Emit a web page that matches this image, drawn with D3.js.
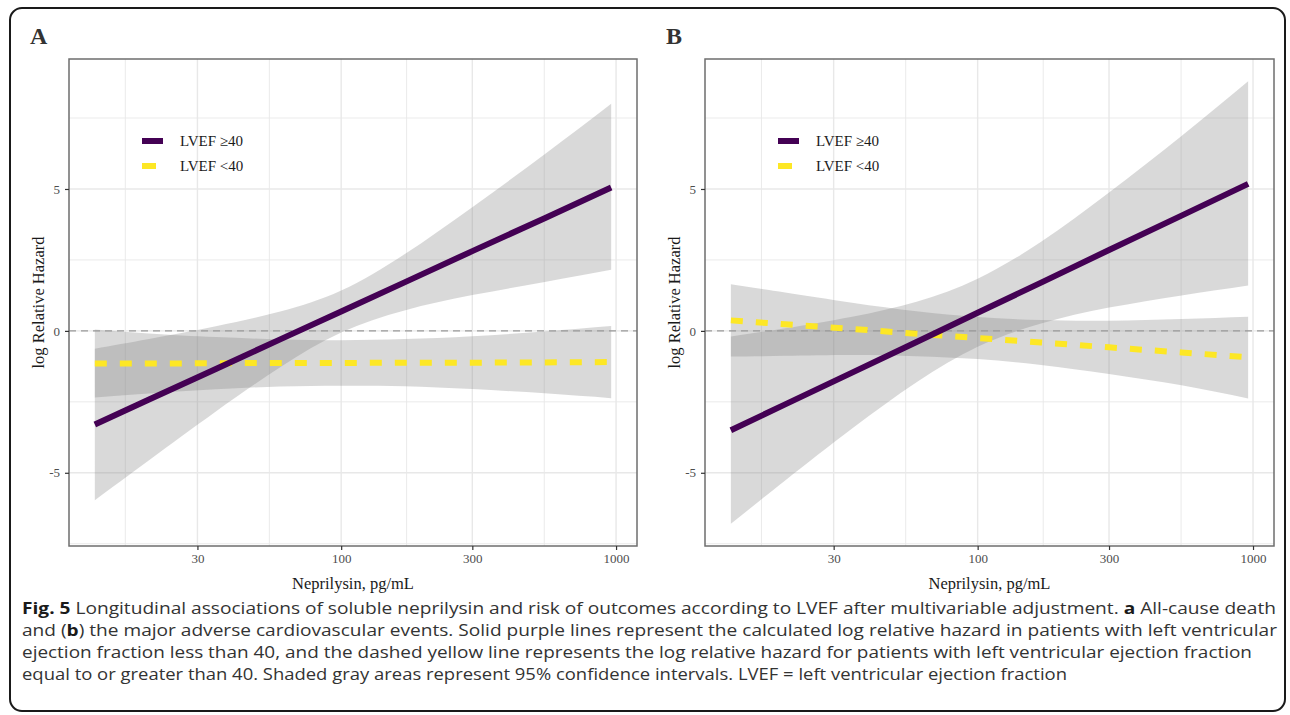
<!DOCTYPE html>
<html>
<head>
<meta charset="utf-8">
<script src="https://cdn.jsdelivr.net/npm/d3@7"></script>
<style>
  body { margin: 0; background: #fff; }
  svg { display: block; }
</style>
</head>
<body>
<svg id="fig" width="1290" height="715"></svg>
<script>
// --- data ---

// neprilysin (pg/mL) where the curves were read
const neprilysin = [12.7, 20, 35, 60, 100, 170, 300, 550, 960];

// panel A: all-cause death
const aHigh   = [-3.30, -2.42, -1.34, -0.30, 0.68, 1.71, 2.81, 3.97, 5.05];
const aHighLo = [-5.97, -4.56, -2.84, -1.28, -0.06, 0.72, 1.26, 1.72, 2.15];
const aHighHi = [-0.63, -0.29, 0.16, 0.68, 1.42, 2.70, 4.36, 6.22, 8.00];
const aLow    = [-1.15, -1.15, -1.14, -1.13, -1.13, -1.12, -1.12, -1.11, -1.10];
const aLowLo  = [-2.35, -2.21, -2.06, -1.96, -1.93, -1.95, -2.05, -2.20, -2.37];
const aLowHi  = [0.05, -0.09, -0.22, -0.30, -0.33, -0.29, -0.19, -0.02, 0.17];

// panel B: major adverse cardiovascular events
const bHigh   = [-3.50, -2.59, -1.47, -0.39, 0.64, 1.70, 2.85, 4.06, 5.18];
const bHighLo = [-6.80, -5.27, -3.44, -1.81, -0.56, 0.26, 0.82, 1.25, 1.60];
const bHighHi = [-0.20, 0.09, 0.50, 1.03, 1.84, 3.14, 4.88, 6.87, 8.80];
const bLow    = [0.37, 0.23, 0.07, -0.10, -0.25, -0.41, -0.58, -0.76, -0.93];
const bLowLo  = [-0.90, -0.88, -0.85, -0.89, -0.99, -1.20, -1.52, -1.92, -2.38];
const bLowHi  = [1.64, 1.35, 0.99, 0.69, 0.49, 0.38, 0.36, 0.42, 0.50];

const groups = ["LVEF \u226540", "LVEF <40"];
const panelLabels = ["A", "B"];
const xTicks = [30, 100, 300, 1000];
const xMinor = [16.4, 54.8, 173, 548];
const yTicks = [-5, 0, 5];
const yMinor = [-7.5, -2.5, 2.5, 7.5];

const captionLines = [
  [["Fig. 5", true], [" Longitudinal associations of soluble neprilysin and risk of outcomes according to LVEF after multivariable adjustment. ", false], ["a", true], [" All-cause death", false]],
  [["and (", false], ["b", true], [") the major adverse cardiovascular events. Solid purple lines represent the calculated log relative hazard in patients with left ventricular", false]],
  [["ejection fraction less than 40, and the dashed yellow line represents the log relative hazard for patients with left ventricular ejection fraction", false]],
  [["equal to or greater than 40. Shaded gray areas represent 95% confidence intervals. LVEF = left ventricular ejection fraction", false]]
];

// --- layout ---
const serif = "'Liberation Serif', 'Times New Roman', serif";
const purple = "#440154", yellow = "#FDE725";
const panelTop = 59, panelBottom = 546;

const panels = [
  { left: 69, width: 568, high: aHigh, highLo: aHighLo, highHi: aHighHi, low: aLow, lowLo: aLowLo, lowHi: aLowHi },
  { left: 705, width: 569, high: bHigh, highLo: bHighLo, highHi: bHighHi, low: bLow, lowLo: bLowLo, lowHi: bLowHi }
];

const fig = d3.select("#fig");

// outer rounded frame
fig.append("rect")
  .attr("x", 10).attr("y", 8)
  .attr("width", 1275).attr("height", 703)
  .attr("rx", 12)
  .attr("fill", "none")
  .attr("stroke", "#1a1a1a")
  .attr("stroke-width", 2);

// shared y scale (ggplot style 5% expansion)
const allY = [].concat(aHighLo, aHighHi, aLowLo, aLowHi, bHighLo, bHighHi, bLowLo, bLowHi);
const [yMin, yMax] = d3.extent(allY);
const yPad = (yMax - yMin) * 0.05;

const [xMinData, xMaxData] = d3.extent(neprilysin);
const lx0 = Math.log10(xMinData), lx1 = Math.log10(xMaxData);
const lxPad = (lx1 - lx0) * 0.05;

function drawPanel(p, k) {
  const x = d3.scaleLog()
    .domain([Math.pow(10, lx0 - lxPad), Math.pow(10, lx1 + lxPad)])
    .range([p.left, p.left + p.width]);
  const y = d3.scaleLinear()
    .domain([yMin - yPad, yMax + yPad])
    .range([panelBottom, panelTop]);

  const g = fig.append("g");
  const right = p.left + p.width;

  // grid
  const grid = g.append("g").attr("stroke", "#e8e8e8").attr("fill", "none");
  grid.selectAll(".xmin").data(xMinor).join("line")
    .attr("x1", d => x(d)).attr("x2", d => x(d))
    .attr("y1", panelTop).attr("y2", panelBottom).attr("stroke-width", 0.9);
  grid.selectAll(".ymin").data(yMinor).join("line")
    .attr("x1", p.left).attr("x2", right)
    .attr("y1", d => y(d)).attr("y2", d => y(d)).attr("stroke-width", 0.9);
  grid.selectAll(".xmaj").data(xTicks).join("line")
    .attr("x1", d => x(d)).attr("x2", d => x(d))
    .attr("y1", panelTop).attr("y2", panelBottom).attr("stroke-width", 1.4);
  grid.selectAll(".ymaj").data(yTicks).join("line")
    .attr("x1", p.left).attr("x2", right)
    .attr("y1", d => y(d)).attr("y2", d => y(d)).attr("stroke-width", 1.4);

  // confidence bands
  const band = (lo, hi) => d3.area()
    .x((d, i) => x(neprilysin[i]))
    .y0((d, i) => y(lo[i]))
    .y1((d, i) => y(hi[i]))
    .curve(d3.curveNatural);

  [[p.highLo, p.highHi], [p.lowLo, p.lowHi]].forEach(([lo, hi]) => {
    g.append("path")
      .datum(neprilysin)
      .attr("d", band(lo, hi))
      .attr("fill", "#808080")
      .attr("fill-opacity", 0.3);
  });

  // reference line at 0
  g.append("line")
    .attr("x1", p.left).attr("x2", right)
    .attr("y1", y(0)).attr("y2", y(0))
    .attr("stroke", "#999")
    .attr("stroke-width", 1.2)
    .attr("stroke-dasharray", "7,5");

  const line = vals => d3.line()
    .x((d, i) => x(neprilysin[i]))
    .y((d, i) => y(vals[i]));

  g.append("path")
    .datum(neprilysin)
    .attr("d", line(p.low))
    .attr("fill", "none")
    .attr("stroke", yellow)
    .attr("stroke-width", 6)
    .attr("stroke-dasharray", "12,13");

  g.append("path")
    .datum(neprilysin)
    .attr("d", line(p.high))
    .attr("fill", "none")
    .attr("stroke", purple)
    .attr("stroke-width", 6);

  // panel border
  g.append("rect")
    .attr("x", p.left).attr("y", panelTop)
    .attr("width", p.width).attr("height", panelBottom - panelTop)
    .attr("fill", "none")
    .attr("stroke", "#6e6e6e")
    .attr("stroke-width", 1.5);

  // axes (plain hyphen minus like the original)
  const fmt = d => String(d);
  const xAxis = g.append("g")
    .attr("transform", `translate(0,${panelBottom})`)
    .call(d3.axisBottom(x).tickValues(xTicks).tickFormat(fmt).tickSize(4).tickPadding(4));
  const yAxis = g.append("g")
    .attr("transform", `translate(${p.left},0)`)
    .call(d3.axisLeft(y).tickValues(yTicks).tickFormat(fmt).tickSize(4).tickPadding(5));
  [xAxis, yAxis].forEach(a => {
    a.select(".domain").remove();
    a.selectAll(".tick line").attr("stroke", "#333").attr("stroke-width", 1.2);
    a.selectAll(".tick text")
      .attr("fill", "#4d4d4d")
      .style("font-family", serif)
      .style("font-size", "13px");
  });

  // axis titles
  g.append("text")
    .attr("x", p.left + p.width / 2)
    .attr("y", 589)
    .attr("text-anchor", "middle")
    .attr("fill", "#1a1a1a")
    .style("font-family", serif)
    .style("font-size", "16.5px")
    .text("Neprilysin, pg/mL");

  g.append("text")
    .attr("transform", `translate(${p.left - 25},${(panelTop + panelBottom) / 2}) rotate(-90)`)
    .attr("text-anchor", "middle")
    .attr("fill", "#1a1a1a")
    .style("font-family", serif)
    .style("font-size", "16.5px")
    .text("log Relative Hazard");

  // panel letter
  g.append("text")
    .attr("x", p.left - 39)
    .attr("y", 44)
    .attr("fill", "#333")
    .style("font-family", serif)
    .style("font-size", "24px")
    .style("font-weight", "bold")
    .text(panelLabels[k]);

  // legend
  const lg = g.append("g").attr("transform", `translate(${p.left + 73},141)`);
  const keys = [
    { color: purple, dash: null },
    { color: yellow, dash: "14,13" }
  ];
  keys.forEach((key, i) => {
    lg.append("line")
      .attr("x1", 0).attr("x2", 21)
      .attr("y1", i * 25).attr("y2", i * 25)
      .attr("stroke", key.color)
      .attr("stroke-width", 6)
      .attr("stroke-dasharray", key.dash);
    lg.append("text")
      .attr("x", 38).attr("y", i * 25)
      .attr("dy", "0.35em")
      .attr("fill", "#1a1a1a")
      .style("font-family", serif)
      .style("font-size", "15px")
      .text(groups[i]);
  });
}

panels.forEach(drawPanel);

// caption
const capWidths = [1254, 1255, 1230, 1045];
captionLines.forEach((parts, i) => {
  const t = fig.append("text")
    .attr("x", 22)
    .attr("y", 614 + i * 22)
    .attr("textLength", capWidths[i])
    .attr("lengthAdjust", "spacingAndGlyphs")
    .attr("fill", "#333")
    .style("font-family", "'Open Sans', 'Noto Sans', sans-serif")
    .style("font-size", "16.5px");
  parts.forEach(([s, bold]) => {
    t.append("tspan")
      .style("font-weight", bold ? "bold" : "normal")
      .attr("fill", bold ? "#1a1a1a" : "#333")
      .text(s);
  });
});
</script>
</body>
</html>
